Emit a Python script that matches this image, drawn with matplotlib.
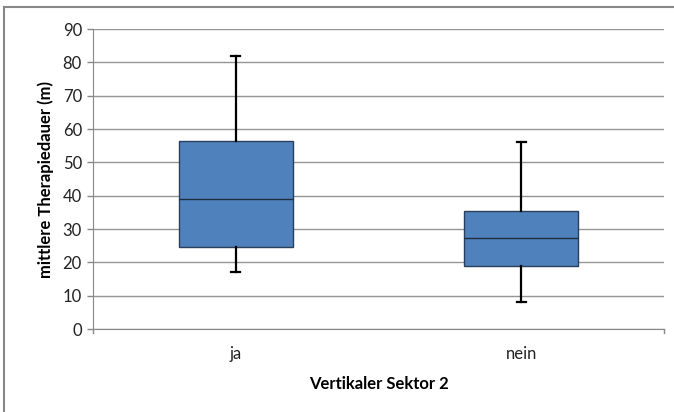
import matplotlib
matplotlib.use("Agg")
import matplotlib.pyplot as plt
from matplotlib.lines import Line2D

categories = ["ja", "nein"]
whisker_low = [17, 8]
q1 = [24.5, 19]
median = [39, 27.2]
q3 = [56.5, 35.3]
whisker_high = [82, 56]
yticks = [0, 10, 20, 30, 40, 50, 60, 70, 80, 90]

plt.rcParams['font.family'] = ['Lato', 'DejaVu Sans']

fig = plt.figure(figsize=(6.74, 4.12), dpi=100)
ax = fig.add_axes([93/674, 1-329/412, 571/674, 300/412])

stats = []
for i, c in enumerate(categories):
    stats.append(dict(label=c, whislo=whisker_low[i], q1=q1[i], med=median[i],
                      q3=q3[i], whishi=whisker_high[i], fliers=[]))

ax.bxp(stats, positions=[1, 2], widths=0.4, patch_artist=True, showfliers=False,
       boxprops=dict(facecolor='#4f81bd', edgecolor='#2a3f5a', linewidth=1.0),
       medianprops=dict(color='#1f2d40', linewidth=1.0),
       whiskerprops=dict(color='black', linewidth=1.6),
       capprops=dict(color='black', linewidth=1.6),
       capwidths=0.03, zorder=3)

ax.set_xlim(0.5, 2.5)
ax.set_ylim(0, 90)
ax.set_yticks(yticks)
ax.set_yticklabels([str(t) for t in yticks], fontsize=12, color='#222222')
ax.set_xticks([1, 2])
ax.set_xticklabels(categories, fontsize=12, color='#222222')
ax.tick_params(axis='x', length=0, pad=12)
ax.tick_params(axis='y', length=4, color='#888888', width=1, pad=4)
ax.yaxis.grid(True, color='#959595', linewidth=1.0)
ax.set_axisbelow(True)
for s in ['top', 'right']:
    ax.spines[s].set_visible(False)
ax.spines['left'].set_color('#888888')
ax.spines['bottom'].set_color('#888888')
# end tick marks on x axis
for xv in [0.5, 2.5]:
    ax.plot([xv, xv], [0, -1.2], color='#888888', linewidth=1, clip_on=False)

ax.set_ylabel("mittlere Therapiedauer (m)", fontsize=12, fontweight='bold', labelpad=6)
ax.set_xlabel("Vertikaler Sektor 2", fontsize=12, fontweight='bold', labelpad=10)

# figure frame (top and left edges visible)
fig.add_artist(Line2D([4/674, 1], [1-7/412, 1-7/412], color='#888888', linewidth=1.5, transform=fig.transFigure))
fig.add_artist(Line2D([4/674, 4/674], [0, 1-7/412], color='#888888', linewidth=1.5, transform=fig.transFigure))

fig.savefig("out.png", dpi=100)
